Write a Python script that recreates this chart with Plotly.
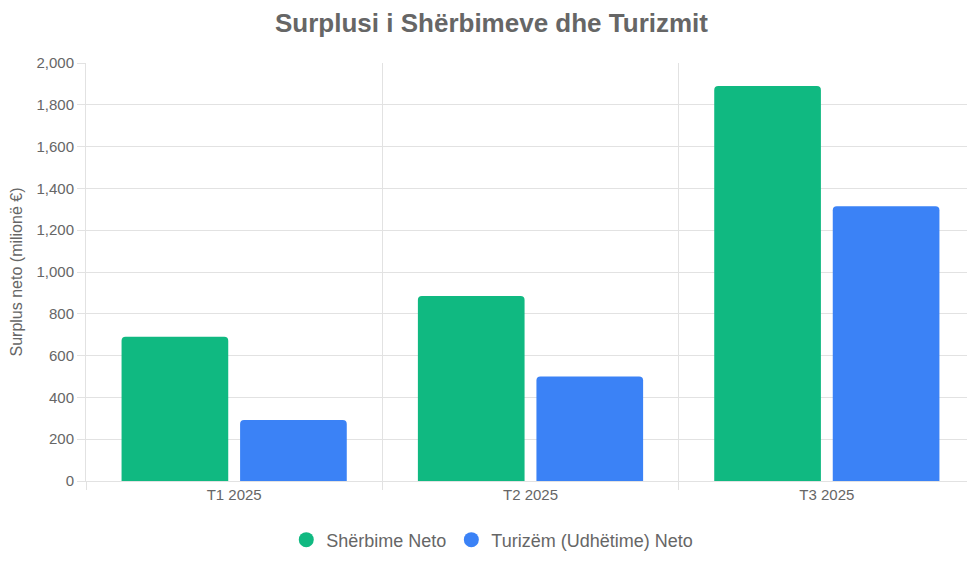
import plotly.graph_objects as go

# quarters and net surplus (million EUR)
quarters = ["T1 2025", "T2 2025", "T3 2025"]
services_net = [690, 885, 1890]
tourism_net = [292, 500, 1315]

series_names = ["Shërbime Neto", "Turizëm (Udhëtime) Neto"]
series_colors = ["#10b981", "#3b82f6"]

text_color = "#666666"
grid_color = "#e2e2e2"
font_family = "Liberation Sans, Arial, sans-serif"

fig = go.Figure()

for name, values, color in zip(series_names, [services_net, tourism_net], series_colors):
    fig.add_trace(go.Bar(
        x=quarters,
        y=values,
        name=name,
        marker=dict(color=color, line=dict(width=0)),
        showlegend=False,
    ))
    # circle legend entry
    fig.add_trace(go.Scatter(
        x=[None],
        y=[None],
        mode="markers",
        name=name,
        marker=dict(color=color, size=15, symbol="circle"),
    ))

# page body has an 8px margin, so the figure is a bit smaller than the window
fig.update_layout(
    width=967,
    height=555,
    paper_bgcolor="white",
    plot_bgcolor="white",
    font=dict(family=font_family, color=text_color, size=15),
    title=dict(
        text="<b>Surplusi i Shërbimeve dhe Turizmit</b>",
        x=0.5,
        xanchor="center",
        y=1 - 15 / 555,
        yanchor="middle",
        font=dict(size=26, color=text_color),
    ),
    margin=dict(l=78, r=0, t=55, b=82),
    barmode="group",
    bargap=0.2,
    bargroupgap=0.1,
    barcornerradius=4,
    legend=dict(
        orientation="h",
        x=0.457,
        xanchor="center",
        y=-0.141,
        yanchor="middle",
        font=dict(size=18),
        itemwidth=30,
    ),
)

fig.update_xaxes(
    type="category",
    tickson="boundaries",
    ticks="outside",
    ticklen=8,
    tickcolor=grid_color,
    showgrid=True,
    gridcolor=grid_color,
    showline=True,
    linecolor=grid_color,
    tickfont=dict(size=15),
)

fig.update_yaxes(
    range=[0, 2000],
    dtick=200,
    tickformat=",",
    ticks="outside",
    ticklen=8,
    tickcolor=grid_color,
    showgrid=True,
    gridcolor=grid_color,
    zeroline=False,
    showline=True,
    linecolor=grid_color,
    tickfont=dict(size=15),
    title=dict(text="Surplus neto (milionë €)", font=dict(size=16), standoff=12),
)

fig.write_html("out.html")
